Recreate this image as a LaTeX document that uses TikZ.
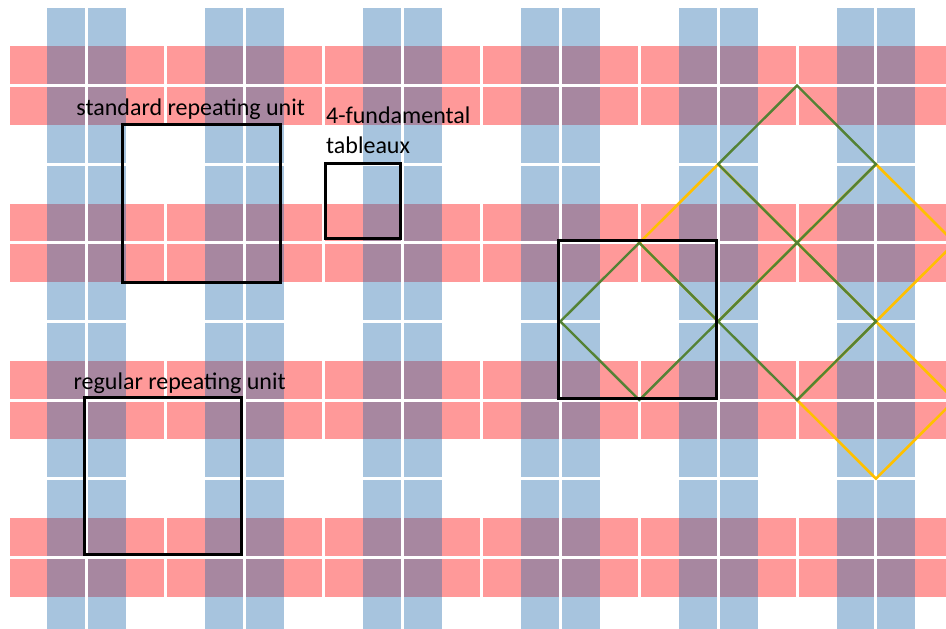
\documentclass[tikz,border=0pt]{standalone}
\usepackage{fontspec}
\setmainfont{Carlito}
\usetikzlibrary{positioning}
\definecolor{Weft}{HTML}{FF0000}
\definecolor{Warp}{HTML}{236CAC}
\definecolor{Leaf}{HTML}{548235}
\definecolor{Gold}{HTML}{FFC000}

\begin{document}
\begin{tikzpicture}[x=39.45pt,y=-39.3pt,font=\fontsize{24pt}{29.3pt}\selectfont,
    seam/.style={white,line width=3pt},
    unitbox/.style={draw=black,line width=3pt},
    goldrhomb/.style={draw=Gold,line width=2.6pt},
    leafrhomb/.style={draw=Leaf,line width=2.4pt}]
  \useasboundingbox (-0.203,-0.178) rectangle (23.775,15.802);
  \begin{scope}
    \clip (-0.203,-0.178) rectangle (23.775,15.802);
    \foreach \r in {0,...,3}
      \fill[Weft,fill opacity=.4] (0,1+4*\r) rectangle (24,3+4*\r);
    \foreach \c in {0,...,5}
      \fill[Warp,fill opacity=.4] (1+4*\c,0) rectangle (3+4*\c,16);
    \foreach \k in {0,...,12} {
      \draw[seam] (2*\k,0) -- (2*\k,16);
      \draw[seam] (0,2*\k) -- (24,2*\k);
    }
    \foreach \cx/\cy in {18/6,22/6,22/10}
      \draw[goldrhomb] (\cx-2,\cy) -- (\cx,\cy-2) -- (\cx+2,\cy) -- (\cx,\cy+2) -- cycle;
    \foreach \cx/\cy in {16/8,20/4,20/8}
      \draw[leafrhomb] (\cx-2,\cy) -- (\cx,\cy-2) -- (\cx+2,\cy) -- (\cx,\cy+2) -- cycle;
  \end{scope}
  \draw[unitbox] (2.9,3) rectangle (6.9,7);
  \draw[unitbox] (8.04,3.97) rectangle (9.96,5.9);
  \draw[unitbox] (1.95,9.93) rectangle (5.93,13.92);
  \draw[unitbox] (13.95,5.95) rectangle (17.95,9.95);
  \node[anchor=base,inner sep=0pt] (standard) at (4.63,2.75) {standard repeating unit};
  \node[anchor=base west,align=left,inner sep=0pt] (tableaux) at (8.06,3.72) {4-fundamental\\tableaux};
  \node[anchor=base,inner sep=0pt] (regular) at (4.35,9.72) {regular repeating unit};
\end{tikzpicture}
\end{document}
